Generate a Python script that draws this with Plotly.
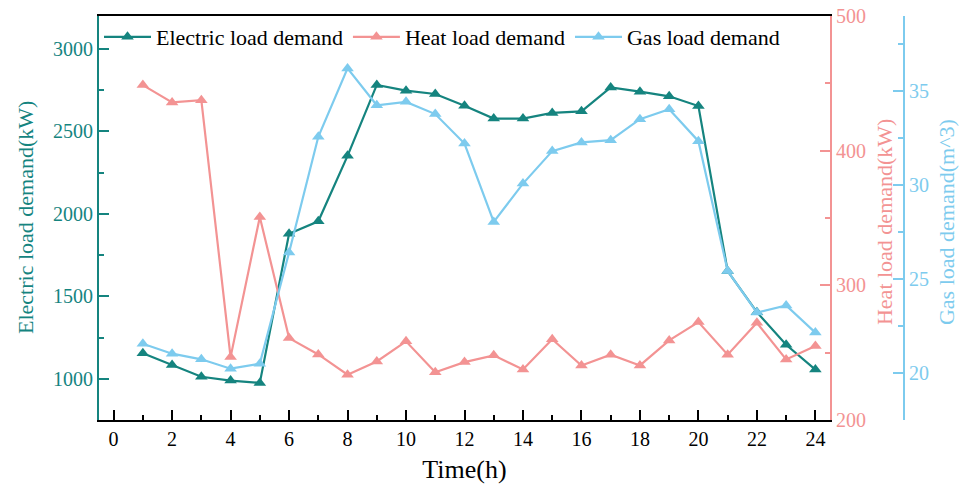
import plotly.graph_objects as go

hours = list(range(1, 25))
electric = [1155, 1083, 1012, 989, 975, 1880, 1955, 2352, 2782, 2747, 2727, 2656,
            2578, 2578, 2612, 2622, 2767, 2741, 2713, 2654, 1653, 1404, 1206, 1056]
heat = [448.7, 435.8, 437.5, 246.7, 350.8, 260.8, 248.7, 233.6, 243.5, 258.4, 235.5, 243.0,
        248.0, 237.5, 260.0, 240.5, 248.5, 240.5, 259.1, 272.7, 248.5, 272.2, 245.0, 255.0]
gas = [21.56, 21.03, 20.73, 20.23, 20.50, 26.41, 32.57, 36.21, 34.25, 34.43, 33.78, 32.21,
       28.04, 30.08, 31.81, 32.27, 32.39, 33.51, 34.04, 32.34, 25.43, 23.22, 23.60, 22.15]

x_ticks = list(range(0, 25, 2))
e_ticks = [1000, 1500, 2000, 2500, 3000]
h_ticks = [200, 300, 400, 500]
g_ticks = [20, 25, 30, 35]

TEAL = "#15847f"
RED = "#f39393"
BLUE = "#7dcbee"
FONT = "Liberation Serif"
TICK = 20

fig = go.Figure()
fig.add_trace(go.Scatter(x=hours, y=electric, name="Electric load demand", mode="lines+markers",
                         line=dict(color=TEAL, width=2.2),
                         marker=dict(symbol="triangle-up", size=11, color=TEAL), yaxis="y"))
fig.add_trace(go.Scatter(x=hours, y=heat, name="Heat load demand", mode="lines+markers",
                         line=dict(color=RED, width=2.2),
                         marker=dict(symbol="triangle-up", size=11, color=RED), yaxis="y2"))
fig.add_trace(go.Scatter(x=hours, y=gas, name="Gas load demand", mode="lines+markers",
                         line=dict(color=BLUE, width=2.2),
                         marker=dict(symbol="triangle-up", size=11, color=BLUE), yaxis="y3"))

W = 821.0
xd = (830 - 99) / W

fig.update_layout(
    width=960, height=486,
    margin=dict(l=99, r=40, t=16, b=66),
    paper_bgcolor="white", plot_bgcolor="white",
    font=dict(family=FONT, size=TICK, color="black"),
    showlegend=True,
    legend=dict(orientation="h", x=0, y=1, xanchor="left", yanchor="top",
                bgcolor="rgba(0,0,0,0)", font=dict(family=FONT, size=22, color="black"),
                itemwidth=47, tracegroupgap=0),
    xaxis=dict(domain=[0, xd], range=[-0.5, 24.5], tickmode="array", tickvals=x_ticks,
               ticks="inside", ticklen=10, tickwidth=2, tickcolor="black",
               minor=dict(dtick=1, tick0=0, ticks="inside", ticklen=5, tickwidth=2, tickcolor="black"),
               showline=True, linecolor="black", linewidth=2, mirror=True,
               showgrid=False, zeroline=False, automargin=False,
               tickfont=dict(family=FONT, size=TICK, color="black"),
               title=dict(text="Time(h)", font=dict(family=FONT, size=26, color="black"), standoff=11)),
    yaxis=dict(range=[750, 3200], tickmode="array", tickvals=e_ticks,
               ticks="inside", ticklen=10, tickwidth=2, tickcolor=TEAL,
               minor=dict(dtick=250, tick0=0, ticks="inside", ticklen=5, tickwidth=2, tickcolor=TEAL),
               showline=True, linecolor=TEAL, linewidth=2, showgrid=False, zeroline=False,
               automargin=False, tickfont=dict(family=FONT, size=TICK, color=TEAL)),
    yaxis2=dict(range=[200, 500], overlaying="y", side="right", anchor="x",
                tickmode="array", tickvals=h_ticks,
                ticks="inside", ticklen=10, tickwidth=2, tickcolor=RED,
                minor=dict(dtick=50, tick0=0, ticks="inside", ticklen=5, tickwidth=2, tickcolor=RED),
                showline=True, linecolor=RED, linewidth=2, showgrid=False, zeroline=False,
                automargin=False, tickfont=dict(family=FONT, size=TICK, color=RED)),
    yaxis3=dict(range=[17.5, 39], overlaying="y", side="right", anchor="free",
                position=(904 - 99) / W,
                tickmode="array", tickvals=g_ticks,
                ticks="inside", ticklen=10, tickwidth=2, tickcolor=BLUE,
                minor=dict(dtick=2.5, tick0=0, ticks="inside", ticklen=5, tickwidth=2, tickcolor=BLUE),
                showline=True, linecolor=BLUE, linewidth=2, showgrid=False, zeroline=False,
                automargin=False, tickfont=dict(family=FONT, size=TICK, color=BLUE)),
    annotations=[
        dict(text="Electric load demand(kW)", x=(25 - 99) / W, y=0.5, xref="paper", yref="paper",
             textangle=-90, showarrow=False, xanchor="center", yanchor="middle",
             font=dict(family=FONT, size=22, color=TEAL)),
        dict(text="Heat load demand(kW)", x=(884 - 99) / W, y=0.49, xref="paper", yref="paper",
             textangle=-90, showarrow=False, xanchor="center", yanchor="middle",
             font=dict(family=FONT, size=22, color=RED)),
        dict(text="Gas load demand(m^3)", x=(946 - 99) / W, y=0.49, xref="paper", yref="paper",
             textangle=-90, showarrow=False, xanchor="center", yanchor="middle",
             font=dict(family=FONT, size=22, color=BLUE)),
    ],
)

fig.write_html("out.html", config={"displayModeBar": False},
               post_script="document.body.style.margin='0';")
